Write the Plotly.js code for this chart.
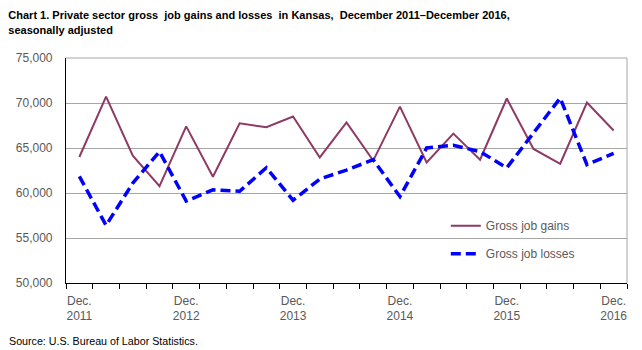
<!DOCTYPE html>
<html>
<head>
<meta charset="utf-8">
<script src="https://cdn.plot.ly/plotly-3.0.1.min.js"></script>
<style>
  html, body { margin: 0; padding: 0; background: #fff; }
  #chart { width: 642px; height: 350px; }
</style>
</head>
<body>
<div id="chart"></div>
<script>
// Quarterly periods, December 2011 – December 2016
const quarters = [
  "Dec 2011","Mar 2012","Jun 2012","Sep 2012","Dec 2012","Mar 2013","Jun 2013","Sep 2013",
  "Dec 2013","Mar 2014","Jun 2014","Sep 2014","Dec 2014","Mar 2015","Jun 2015","Sep 2015",
  "Dec 2015","Mar 2016","Jun 2016","Sep 2016","Dec 2016"
];
const grossJobGains = [
  64000, 70700, 64150, 60750, 67400, 61800, 67750, 67300,
  68500, 63950, 67850, 63600, 69600, 63400, 66600, 63700,
  70500, 64900, 63250, 70050, 66950
];
const grossJobLosses = [
  61850, 56400, 61100, 64600, 59100, 60350, 60200, 62800,
  59200, 61550, 62550, 63700, 59600, 65000, 65300, 64600,
  62800, 66700, 70550, 63150, 64400
];
const tickIndex = [0, 4, 8, 12, 16, 20];
const tickLabels = ["Dec.<br>2011","Dec.<br>2012","Dec.<br>2013","Dec.<br>2014","Dec.<br>2015","Dec.<br>2016"];
const yTicks = [50000, 55000, 60000, 65000, 70000, 75000];

const xIdx = quarters.map((q, i) => i);

const traces = [
  {
    x: xIdx, y: grossJobGains, text: quarters, name: "Gross job gains",
    type: "scatter", mode: "lines", legendgroup: "g1",
    line: { color: "#8E3A64", width: 2 },
    hovertemplate: "%{text}: %{y:,}<extra>Gross job gains</extra>"
  },
  {
    x: xIdx, y: grossJobLosses, text: quarters, name: "Gross job losses",
    type: "scatter", mode: "lines", legendgroup: "g2",
    line: { color: "#0000FF", width: 3.5, dash: "10px,5px" },
    hovertemplate: "%{text}: %{y:,}<extra>Gross job losses</extra>"
  }
];

const tickFont = { family: "Liberation Sans, Arial, sans-serif", size: 12, color: "#595959" };

const layout = {
  width: 642, height: 350,
  margin: { l: 65.5, r: 15.3, t: 58.3, b: 66.7, pad: 0 },
  paper_bgcolor: "#ffffff", plot_bgcolor: "#ffffff",
  title: {
    text: "Chart 1. Private sector gross  job gains and losses  in Kansas,  December 2011–December 2016,<br>seasonally adjusted",
    font: { family: "Liberation Sans, Arial, sans-serif", size: 11, color: "#000000", weight: "bold" },
    x: 0.013, xref: "container", xanchor: "left",
    y: 0.945, yref: "container", yanchor: "top"
  },
  showlegend: true,
  legend: {
    x: 0.677, xanchor: "left", y: 0.319, yanchor: "top",
    bgcolor: "rgba(0,0,0,0)", borderwidth: 0,
    font: tickFont, traceorder: "grouped", tracegroupgap: 9
  },
  xaxis: {
    range: [-0.5, 20.5], tickmode: "array", tickvals: tickIndex, ticktext: tickLabels,
    ticks: "", showgrid: false, zeroline: false,
    showline: true, linecolor: "#000000", linewidth: 1.2,
    tickfont: tickFont, ticklabelstandoff: 6,
    minor: { tick0: -0.5, dtick: 1, ticks: "outside", ticklen: 5, tickcolor: "#000000", tickwidth: 1, showgrid: false },
    fixedrange: true
  },
  yaxis: {
    range: [50000, 75000], tickmode: "array", tickvals: yTicks,
    tickformat: ",d", ticks: "", ticklabelstandoff: 10,
    showgrid: true, gridcolor: "#A6A6A6", gridwidth: 1,
    zeroline: false, showline: true, linecolor: "#000000", linewidth: 1.2,
    tickfont: tickFont, fixedrange: true
  },
  shapes: [
    { type: "line", xref: "paper", yref: "paper", x0: 1, x1: 1, y0: 0, y1: 1, line: { color: "#A6A6A6", width: 1 }, layer: "below" },
    { type: "line", xref: "paper", yref: "paper", x0: 0, x1: 1, y0: 1, y1: 1, line: { color: "#A6A6A6", width: 1 }, layer: "below" }
  ],
  annotations: [
    {
      text: "Source: U.S. Bureau of Labor Statistics.",
      xref: "paper", yref: "paper", x: -0.106, y: -0.22, xanchor: "left", yanchor: "top",
      showarrow: false,
      font: { family: "Liberation Sans, Arial, sans-serif", size: 10.7, color: "#000000" }
    }
  ]
};

Plotly.newPlot("chart", traces, layout, { displayModeBar: false });
</script>
</body>
</html>
